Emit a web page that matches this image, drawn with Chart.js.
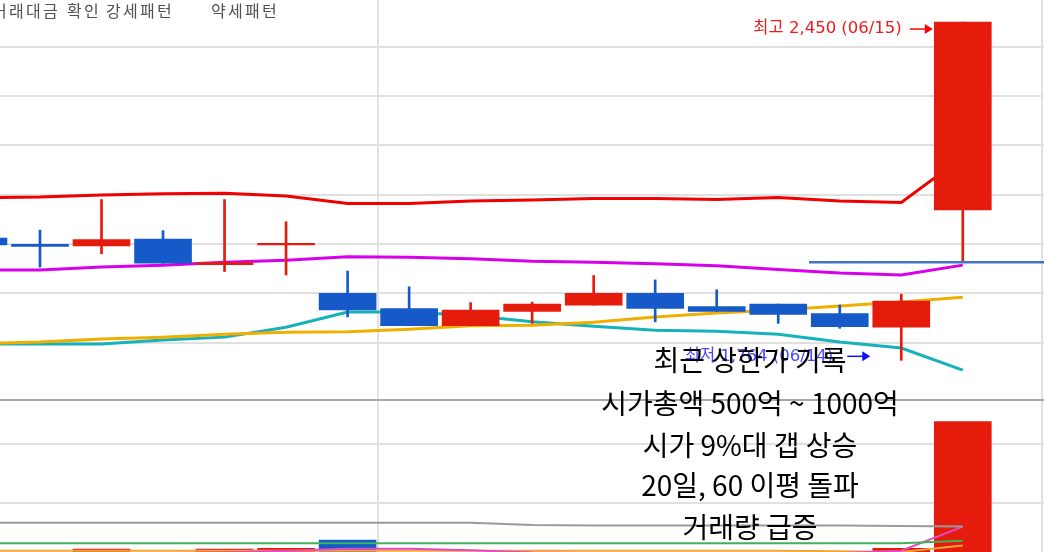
<!DOCTYPE html>
<html>
<head>
<meta charset="utf-8">
<script src="https://cdn.jsdelivr.net/npm/chart.js@4.4.1/dist/chart.umd.min.js"></script>
<style>
  html, body { margin: 0; padding: 0; background: #fff; overflow: hidden; }
  #wrap { width: 1044px; height: 552px; }
</style>
</head>
<body>
<div id="wrap"><canvas id="c" width="1044" height="552"></canvas></div>
<script>
// daily candles (index 0 is the partly hidden one on the left edge)
const days   = [0, 1, 2, 3, 4, 5, 6, 7, 8, 9, 10, 11, 12, 13, 14, 15, 16];
const opens  = [2012, 1999, 1996, 2010, 1958, 1998, 1900, 1869, 1834, 1863, 1876, 1900, 1873, 1878, 1859, 1831, 2069];
const closes = [1998, 1995, 2009, 1961, 1962, 2001, 1866, 1834, 1866, 1878, 1900, 1869, 1863, 1857, 1832, 1884, 2450];
const highs  = [2020, 2028, 2090, 2027, 2090, 2045, 1945, 1913, 1881, 1882, 1936, 1927, 1907, 1878, 1876, 1898, 2450];
const lows   = [1990, 1953, 1980, 1961, 1944, 1937, 1852, 1834, 1834, 1839, 1876, 1842, 1863, 1839, 1829, 1764, 1964];

// moving averages on the price panel
const maRed     = [2094, 2095, 2099, 2102, 2103, 2097, 2082, 2082, 2087, 2089, 2092, 2092, 2090, 2094, 2087, 2084, 2176];
const maMagenta = [1947, 1947, 1953, 1957, 1963, 1967, 1974, 1973, 1970, 1965, 1963, 1960, 1956, 1948, 1941, 1937, 1957];
const maOrange  = [1798, 1801, 1807, 1811, 1817, 1821, 1822, 1827, 1834, 1835, 1841, 1852, 1860, 1866, 1874, 1882, 1892];
const maCyan    = [1797, 1797, 1797, 1805, 1811, 1831, 1862, 1862, 1855, 1842, 1833, 1825, 1823, 1817, 1801, 1789, 1744];

// hand-drawn level line
const levelPrice = 1963;
const levelFrom  = 13.5;
const levelTo    = 17.5;

// volume (million shares) and its averages
const volume    = [0.15, 0.12, 0.22, 0.14, 0.22, 0.23, 0.37, 0.16, 0.15, 0.13, 0.16, 0.15, 0.10, 0.12, 0.14, 0.23, 2.38];
const volGray   = [0.665, 0.665, 0.665, 0.665, 0.665, 0.665, 0.665, 0.665, 0.665, 0.625, 0.62, 0.62, 0.62, 0.62, 0.62, 0.61, 0.60];
const volGreen  = [0.317, 0.317, 0.317, 0.317, 0.317, 0.317, 0.317, 0.317, 0.317, 0.317, 0.317, 0.317, 0.317, 0.317, 0.317, 0.317, 0.36];
const volPink   = [0.15, 0.15, 0.15, 0.15, 0.16, 0.19, 0.225, 0.225, 0.20, 0.16, 0.15, 0.15, 0.15, 0.15, 0.15, 0.19, 0.60];
const volOrange = [0.19, 0.19, 0.19, 0.19, 0.19, 0.19, 0.19, 0.19, 0.19, 0.19, 0.19, 0.19, 0.19, 0.19, 0.18, 0.17, 0.28];

const monthSplit = 6.5;
const highLabel = '최고 2,450 (06/15)';
const lowLabel  = '최저 1,764 (06/14)';
const headerWords = ['거래대금', '확인', '강세패턴', '약세패턴'];
const memo = ['최근 상한가 기록', '시가총액 500억 ~ 1000억', '시가 9%대 갭 상승', '20일, 60 이평 돌파', '거래량 급증'];

const UP = '#e51b0b';
const DOWN = '#155ac8';
const candleColor = days.map(i => closes[i] >= opens[i] ? UP : DOWN);

const pts = arr => days.map(i => ({ x: i, y: arr[i] }));
const line = (arr, color, axis, width, order) => ({
  type: 'line', data: pts(arr), borderColor: color, borderWidth: width,
  pointRadius: 0, tension: 0, yAxisID: axis, order: order
});

const annotations = {
  id: 'annotations',
  beforeDatasetsDraw(chart) {
    const { ctx, chartArea, scales } = chart;
    ctx.save();
    ctx.strokeStyle = '#e2e2e2';
    ctx.lineWidth = 2;
    ctx.beginPath();
    ctx.moveTo(chartArea.right - 2, chartArea.top);
    ctx.lineTo(chartArea.right - 2, chartArea.bottom);
    ctx.stroke();
    ctx.strokeStyle = '#a8a8a8';
    ctx.beginPath();
    ctx.moveTo(chartArea.left, scales.y.bottom);
    ctx.lineTo(chartArea.right, scales.y.bottom);
    ctx.stroke();
    ctx.restore();
  },
  afterDatasetsDraw(chart) {
    const { ctx, scales } = chart;
    const x = scales.x, y = scales.y;
    const half = 29;
    ctx.save();

    // legend words at the top-left, fixed-pitch like the original bitmap font
    ctx.font = '16px "Noto Sans CJK KR"';
    ctx.fillStyle = '#505050';
    ctx.textBaseline = 'middle';
    ctx.textAlign = 'left';
    const wordX = [-8, 67, 106, 211];
    headerWords.forEach((w, k) => {
      [...w].forEach((ch, j) => ctx.fillText(ch, wordX[k] + j * 17, 11));
    });

    const arrow = (tipX, yy, color) => {
      ctx.strokeStyle = color;
      ctx.fillStyle = color;
      ctx.lineWidth = 1.5;
      ctx.beginPath();
      ctx.moveTo(tipX - 23, yy);
      ctx.lineTo(tipX - 6, yy);
      ctx.stroke();
      ctx.beginPath();
      ctx.moveTo(tipX, yy);
      ctx.lineTo(tipX - 8, yy - 5);
      ctx.lineTo(tipX - 8, yy + 5);
      ctx.closePath();
      ctx.fill();
    };

    // high label
    const hx = x.getPixelForValue(16) - half - 1;
    const hy = y.getPixelForValue(highs[16]) + 7;
    ctx.font = '16.5px "DejaVu Sans", "Noto Sans CJK KR"';
    ctx.textAlign = 'right';
    ctx.fillStyle = '#f01a1a';
    ctx.fillText(highLabel, hx - 31, hy);
    arrow(hx, hy, '#ff0000');

    // low label
    const lx = x.getPixelForValue(15) - half - 2;
    const ly = y.getPixelForValue(lows[15]) - 4;
    ctx.fillStyle = '#4848ff';
    ctx.fillText(lowLabel, lx - 37, ly);
    arrow(lx, ly, '#1010ff');

    // memo block
    ctx.font = '28px "Noto Sans CJK KR"';
    ctx.fillStyle = '#000';
    ctx.textAlign = 'center';
    const memoY = [360, 403, 445, 485, 527];
    memo.forEach((t, k) => ctx.fillText(t, 750, memoY[k]));
    ctx.restore();
  }
};

new Chart(document.getElementById('c'), {
  data: {
    datasets: [
      {
        type: 'line', data: [{ x: levelFrom, y: levelPrice }, { x: levelTo, y: levelPrice }],
        borderColor: '#4472c4', borderWidth: 2.5, pointRadius: 0, yAxisID: 'y', order: 0
      },
      {
        type: 'bar', data: days.map(i => ({ x: i, y: [opens[i], closes[i]] })),
        backgroundColor: candleColor, barThickness: 57, grouped: false, yAxisID: 'y', order: 1
      },
      {
        type: 'bar', data: days.map(i => ({ x: i, y: [lows[i], highs[i]] })),
        backgroundColor: candleColor, barThickness: 2, grouped: false, yAxisID: 'y', order: 2
      },
      line(maRed, '#f00000', 'y', 3, 5),
      line(maMagenta, '#d800ea', 'y', 3, 5),
      line(maOrange, '#f0ae00', 'y', 3, 5),
      line(maCyan, '#16b2ba', 'y', 3, 5),
      {
        type: 'bar', data: pts(volume),
        backgroundColor: candleColor, barThickness: 57, grouped: false, yAxisID: 'v', order: 4
      },
      line(volGray, '#9a9a9a', 'v', 2, 3),
      line(volGreen, '#3cb45a', 'v', 2, 3),
      line(volPink, '#e54bc0', 'v', 2, 3),
      line(volOrange, '#f3a43a', 'v', 2, 3)
    ]
  },
  options: {
    responsive: false,
    animation: false,
    layout: { padding: 0 },
    plugins: { legend: { display: false }, tooltip: { enabled: false }, title: { display: false } },
    scales: {
      x: {
        type: 'linear', min: 0.35, max: 17.32, offset: false,
        grid: { color: '#e3e3e3', lineWidth: 2, drawTicks: false, offset: false },
        border: { display: false },
        ticks: { display: false },
        afterBuildTicks: s => { s.ticks = [{ value: monthSplit }]; },
        afterFit: s => { s.height = 0; }
      },
      y: {
        position: 'right', stack: 'panels', stackWeight: 400,
        min: 1683.5, max: 2494.7,
        grid: { color: '#e0e0e0', lineWidth: 2, drawTicks: false },
        border: { display: false },
        ticks: { display: false, stepSize: 100 },
        afterBuildTicks: s => { s.ticks = s.ticks.filter(t => t.value % 100 === 0); },
        afterFit: s => { s.width = 0; }
      },
      v: {
        position: 'right', stack: 'panels', stackWeight: 152,
        min: 0.169, max: 2.746,
        grid: { color: '#e0e0e0', lineWidth: 2, drawTicks: false },
        border: { display: false },
        ticks: { display: false, stepSize: 1 },
        afterBuildTicks: s => { s.ticks = s.ticks.filter(t => Number.isInteger(t.value)); },
        afterFit: s => { s.width = 0; }
      }
    }
  },
  plugins: [annotations]
});
</script>
</body>
</html>
